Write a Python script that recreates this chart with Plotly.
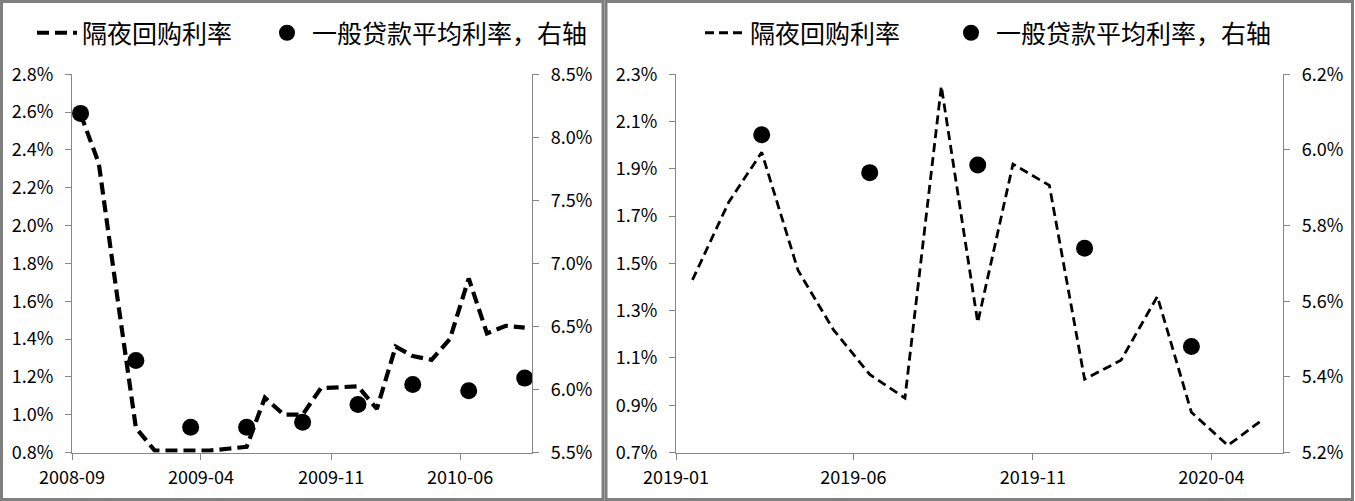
import pandas as pd
import plotly.graph_objects as go

# ---------------- data ----------------
# Left panel: 2008-09 .. 2010-09 monthly overnight repo rate (%)
left_start = "2008-09"
left_repo = [2.59, 2.33, 1.61, 0.93, 0.81, 0.81, 0.81, 0.81, 0.82, 0.83,
             1.09, 1.00, 1.00, 1.14, 1.145, 1.15, 1.03, 1.36, 1.31, 1.29,
             1.40, 1.72, 1.43, 1.47, 1.46]
# quarterly general-loan average rate (%), right axis
left_loan_months = ["2008-09", "2008-12", "2009-03", "2009-06", "2009-09",
                    "2009-12", "2010-03", "2010-06", "2010-09"]
left_loan = [8.19, 6.23, 5.70, 5.70, 5.74, 5.88, 6.04, 5.99, 6.09]

# Right panel: 2019-01 .. 2020-05 monthly overnight repo rate (%)
right_start = "2019-01"
right_repo = [1.43, 1.76, 1.97, 1.47, 1.22, 1.03, 0.93, 2.25, 1.25, 1.92,
              1.83, 1.01, 1.09, 1.36, 0.87, 0.73, 0.84]
right_loan_months = ["2019-03", "2019-06", "2019-09", "2019-12", "2020-03"]
right_loan = [6.04, 5.94, 5.96, 5.74, 5.48]

name_repo = "隔夜回购利率"
name_loan = "一般贷款平均利率，右轴"

FONT = "Noto Sans CJK SC"
W, H = 1355, 501
AXC = "#868686"


def mid_month(months):
    return [pd.Timestamp(m + "-01") + pd.Timedelta(days=14) for m in months]


left_months = [d.strftime("%Y-%m") for d in pd.date_range(left_start + "-01", periods=len(left_repo), freq="MS")]
right_months = [d.strftime("%Y-%m") for d in pd.date_range(right_start + "-01", periods=len(right_repo), freq="MS")]

fig = go.Figure()

fig.add_trace(go.Scatter(x=mid_month(left_months), y=left_repo, name=name_repo, mode="lines",
                         line=dict(color="black", width=4.2, dash="12px,6px"),
                         xaxis="x", yaxis="y", legend="legend"))
fig.add_trace(go.Scatter(x=mid_month(left_loan_months), y=left_loan, name=name_loan, mode="markers",
                         marker=dict(color="black", size=17),
                         xaxis="x", yaxis="y2", legend="legend2"))
fig.add_trace(go.Scatter(x=mid_month(right_months), y=right_repo, name=name_repo, mode="lines",
                         line=dict(color="black", width=2.8, dash="9px,5px"),
                         xaxis="x2", yaxis="y3", legend="legend3"))
fig.add_trace(go.Scatter(x=mid_month(right_loan_months), y=right_loan, name=name_loan, mode="markers",
                         marker=dict(color="black", size=17),
                         xaxis="x2", yaxis="y4", legend="legend4"))

ydom = [1 - 452.5 / H, 1 - 74.3 / H]
tickfont = dict(family=FONT, size=18, color="black")

common_x = dict(type="date", showgrid=False, zeroline=False, showline=True, linecolor=AXC, linewidth=1.3,
                ticks="outside", ticklen=6, tickcolor=AXC, tickformat="%Y-%m", tickfont=tickfont,
                ticklabelstandoff=3, automargin=False)
common_y = dict(showgrid=False, zeroline=False, showline=True, linecolor=AXC, linewidth=1.3,
                ticks="outside", ticklen=6, tickcolor=AXC, tickfont=tickfont, ticksuffix="%",
                tickformat=".1f", ticklabelstandoff=8, automargin=False)

legfont = dict(family=FONT, size=25, color="black")


def leg(xpx):
    return dict(orientation="h", x=xpx / W, y=1 - 33 / H, xanchor="left", yanchor="middle",
                font=legfont, bgcolor="rgba(0,0,0,0)", itemwidth=40)


fig.update_layout(
    width=W, height=H, margin=dict(l=0, r=0, t=0, b=0, pad=0, autoexpand=False),
    paper_bgcolor="white", plot_bgcolor="white",
    font=dict(family=FONT, color="black"),
    showlegend=True,
    xaxis=dict(domain=[72 / W, 532 / W], range=["2008-09-01", "2010-09-27"], tick0="2008-09-01",
               dtick="M7", anchor="y", **common_x),
    yaxis=dict(domain=ydom, range=[0.8, 2.8], tick0=0.8, dtick=0.2, anchor="x", **common_y),
    yaxis2=dict(domain=ydom, range=[5.5, 8.5], tick0=5.5, dtick=0.5, anchor="x", overlaying="y",
                side="right", **common_y),
    xaxis2=dict(domain=[676 / W, 1283 / W], range=["2019-01-01", "2020-06-01"], tick0="2019-01-01",
                dtick="M5", anchor="y3", **common_x),
    yaxis3=dict(domain=ydom, range=[0.7, 2.3], tick0=0.7, dtick=0.2, anchor="x2", **common_y),
    yaxis4=dict(domain=ydom, range=[5.2, 6.2], tick0=5.2, dtick=0.2, anchor="x2", overlaying="y3",
                side="right", **common_y),
    legend=leg(32),
    legend2=leg(262),
    legend3=leg(700),
    legend4=leg(946),
    shapes=[
        dict(type="rect", xref="paper", yref="paper", x0=1.5 / W, x1=603 / W, y0=1.5 / H, y1=1 - 1.5 / H,
             line=dict(color="#7f7f7f", width=3)),
        dict(type="rect", xref="paper", yref="paper", x0=606 / W, x1=1352.5 / W, y0=1.5 / H, y1=1 - 1.5 / H,
             line=dict(color="#7f7f7f", width=3)),
    ],
)

fig.write_html("out.html", config={"displayModeBar": False},
               post_script="document.body.style.margin='0';document.body.style.overflow='hidden';")
